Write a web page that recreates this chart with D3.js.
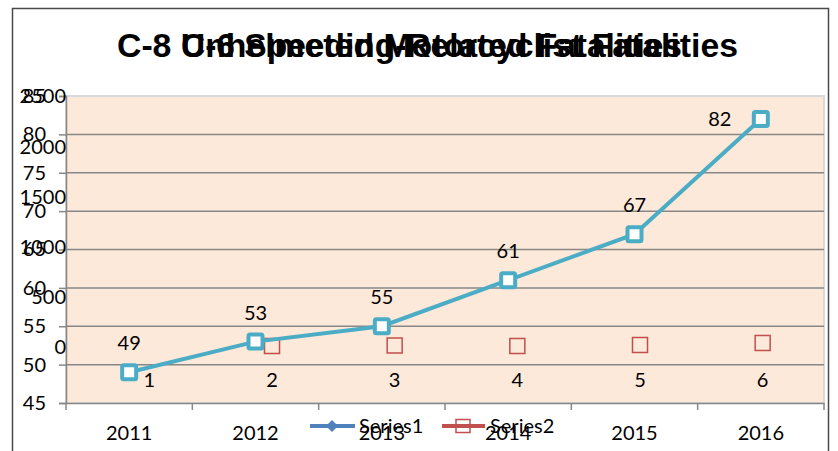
<!DOCTYPE html>
<html><head><meta charset="utf-8">
<script src="https://cdn.jsdelivr.net/npm/d3@7"></script>
<style>html,body{margin:0;padding:0;background:#fff;} svg{display:block;}</style>
</head><body>
<svg id="chart" width="838" height="451"></svg>
<script>
// ---- data ----
const titles = ["C-8 Unhelmeted Motorcyclist Fatalities", "C-6 Speeding-Related Fatalities"];
const years = ["2011", "2012", "2013", "2014", "2015", "2016"];
const speeding = [49, 53, 55, 61, 67, 82];
const yTicks1 = [45, 50, 55, 60, 65, 70, 75, 80, 85];
const cats2 = ["1", "2", "3", "4", "5", "6"];
const series2 = [null, 15, 20, 15, 25, 45];
const yTicks2 = [0, 500, 1000, 1500, 2000, 2500];
const legendNames = ["Series1", "Series2"];

// ---- layout ----
const FONT = "Lato, 'Liberation Sans', Arial, sans-serif";
const FS = 20;
const svg = d3.select("#chart");
svg.append("rect").attr("width", 838).attr("height", 451).attr("fill", "#fff");
svg.append("rect").attr("x", 12.5).attr("y", 8.5).attr("width", 816).attr("height", 470)
  .attr("fill", "none").attr("stroke", "#4a4a4a").attr("stroke-width", 1.5);

const plot = {left: 66, right: 824, top: 96, bottom: 403};
const x1 = d3.scaleBand().domain(years).range([plot.left, plot.right]);
const y1 = d3.scaleLinear().domain([45, 85]).range([plot.bottom, plot.top]);
const x2 = d3.scaleBand().domain(cats2).range([88, 824]);
const y2 = d3.scaleLinear().domain([0, 2500]).range([347.5, 96.5]);

// plot background
svg.append("rect").attr("x", plot.left).attr("y", plot.top)
  .attr("width", plot.right - plot.left).attr("height", plot.bottom - plot.top)
  .attr("fill", "#fde9d9").attr("stroke", "#d9d9d9").attr("stroke-width", 2);

// gridlines
svg.append("g").selectAll("line").data(yTicks1.filter(d => d > 45 && d < 85)).join("line")
  .attr("x1", plot.left).attr("x2", plot.right)
  .attr("y1", d => y1(d)).attr("y2", d => y1(d))
  .attr("stroke", "#878787").attr("stroke-width", 1.5);

// y axis 1
const ay1 = svg.append("g").attr("transform", `translate(${plot.left},0)`)
  .call(d3.axisLeft(y1).tickValues(yTicks1).tickSize(7).tickPadding(13));
ay1.select(".domain").attr("stroke", "#878787").attr("stroke-width", 1.5);
ay1.selectAll(".tick line").attr("stroke", "#878787").attr("stroke-width", 1.5);
ay1.selectAll("text").attr("font-family", FONT).attr("font-size", FS).attr("fill", "#000");

// y axis 2 (labels only)
const ay2 = svg.append("g").attr("transform", `translate(${plot.left + 1},0)`)
  .call(d3.axisLeft(y2).tickValues(yTicks2).tickFormat(d3.format("d")).tickSize(0).tickPadding(1));
ay2.select(".domain").remove();
ay2.selectAll("text").attr("font-family", FONT).attr("font-size", FS).attr("fill", "#000");

// x axis 1
const ax1 = svg.append("g").attr("transform", `translate(0,${plot.bottom})`)
  .call(d3.axisBottom(x1).tickSize(0).tickPadding(23));
ax1.select(".domain").attr("stroke", "#878787").attr("stroke-width", 1.5);
ax1.selectAll("text").attr("font-family", FONT).attr("font-size", FS).attr("fill", "#000");
const bounds = years.map(d => x1(d)).concat([x1.range()[1]]);
svg.append("g").selectAll("line").data(bounds).join("line")
  .attr("x1", d => d).attr("x2", d => d).attr("y1", plot.bottom).attr("y2", plot.bottom + 7)
  .attr("stroke", "#878787").attr("stroke-width", 1.5);

// x axis 2 labels (category numbers)
svg.append("g").selectAll("text").data(cats2).join("text")
  .attr("x", d => x2(d) + x2.bandwidth() / 2).attr("y", 387)
  .attr("text-anchor", "middle").attr("font-family", FONT).attr("font-size", FS).text(d => d);

// series2 markers
svg.append("g").selectAll("rect").data(cats2.map((c, i) => ({c, v: series2[i]})).filter(d => d.v != null))
  .join("rect")
  .attr("x", d => x2(d.c) + x2.bandwidth() / 2 - 7.5).attr("y", d => y2(d.v) - 7.5)
  .attr("width", 15).attr("height", 15)
  .attr("fill", "none").attr("stroke", "#c0504d").attr("stroke-width", 1.5);

// speeding line
const pts = years.map((y, i) => ({y, v: speeding[i], cx: x1(y) + x1.bandwidth() / 2, cy: y1(speeding[i])}));
svg.append("path").datum(pts)
  .attr("d", d3.line().x(d => d.cx).y(d => d.cy))
  .attr("fill", "none").attr("stroke", "#4bacc6").attr("stroke-width", 4);
svg.append("g").selectAll("rect").data(pts).join("rect")
  .attr("x", d => d.cx - 7).attr("y", d => d.cy - 7).attr("width", 14).attr("height", 14).attr("rx", 1.5)
  .attr("fill", "#fff").attr("stroke", "#4bacc6").attr("stroke-width", 4);
svg.append("g").selectAll("text").data(pts).join("text")
  .attr("x", (d, i) => i === pts.length - 1 ? d.cx - 41 : d.cx)
  .attr("y", (d, i) => i === pts.length - 1 ? d.cy + 7 : d.cy - 22)
  .attr("text-anchor", "middle").attr("font-family", FONT).attr("font-size", FS).text(d => d.v);

// titles (overlapping, as in the reference)
svg.append("text").attr("x", 117).attr("y", 57).attr("textLength", 621).attr("lengthAdjust", "spacingAndGlyphs")
  .attr("font-family", "'Liberation Sans Narrow', 'Liberation Sans', Arial, sans-serif").attr("font-weight", "bold")
  .attr("font-size", 33).text(titles[0]);
svg.append("text").attr("x", 181).attr("y", 57).attr("textLength", 501).attr("lengthAdjust", "spacingAndGlyphs")
  .attr("font-family", "'Liberation Sans Narrow', 'Liberation Sans', Arial, sans-serif").attr("font-weight", "bold")
  .attr("font-size", 33).text(titles[1]);

// legend
const lg = svg.append("g");
lg.append("rect").attr("x", 310).attr("y", 424).attr("width", 45).attr("height", 4).attr("fill", "#4f81bd");
lg.append("path").attr("d", "M332,420 L338,426 L332,432 L326,426 Z").attr("fill", "#4f81bd");
lg.append("text").attr("x", 359).attr("y", 433).attr("font-family", FONT).attr("font-size", FS).text(legendNames[0]);
lg.append("rect").attr("x", 442).attr("y", 424).attr("width", 43).attr("height", 4).attr("fill", "#c0504d");
lg.append("rect").attr("x", 456).attr("y", 419.5).attr("width", 14).attr("height", 13)
  .attr("fill", "none").attr("stroke", "#c0504d").attr("stroke-width", 1.5);
lg.append("text").attr("x", 490).attr("y", 433).attr("font-family", FONT).attr("font-size", FS).text(legendNames[1]);
</script>
</body></html>
